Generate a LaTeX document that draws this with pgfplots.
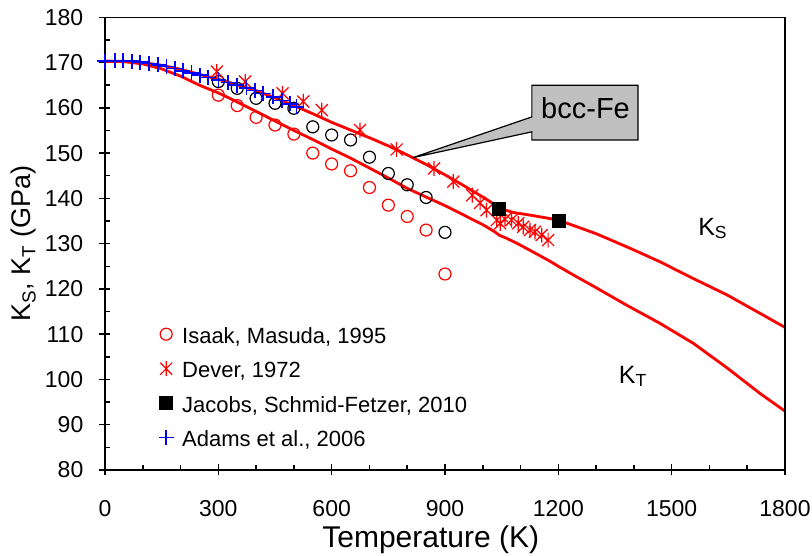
\documentclass[border=0pt]{standalone}
\usepackage{fontspec}
\setmainfont{Liberation Sans}
\usepackage{pgfplots}
\pgfplotsset{compat=1.18}
\definecolor{calloutgray}{RGB}{192,192,192}
\pgfdeclareplotmark{xstar}{%
  \pgfpathmoveto{\pgfqpoint{0pt}{\pgfplotmarksize}}%
  \pgfpathlineto{\pgfqpoint{0pt}{-\pgfplotmarksize}}%
  \pgfpathmoveto{\pgfqpoint{-.8\pgfplotmarksize}{-.8\pgfplotmarksize}}%
  \pgfpathlineto{\pgfqpoint{.8\pgfplotmarksize}{.8\pgfplotmarksize}}%
  \pgfpathmoveto{\pgfqpoint{-.8\pgfplotmarksize}{.8\pgfplotmarksize}}%
  \pgfpathlineto{\pgfqpoint{.8\pgfplotmarksize}{-.8\pgfplotmarksize}}%
  \pgfusepathqstroke}
\begin{document}
\begin{tikzpicture}
\path[use as bounding box] (-105pt,-86pt) rectangle (707pt,470pt);
\begin{axis}[
  at={(0,0)}, anchor=south west,
  scale only axis, width=680pt, height=452.7pt,
  xmin=0, xmax=1800, ymin=80, ymax=180,
  xtick={0,300,...,1800},
  minor xtick={100,200,400,500,700,800,1000,1100,1300,1400,1600,1700},
  ytick={80,90,...,180},
  minor ytick={85,95,...,175},
  tick pos=left, tick align=center,
  major tick length=11pt, minor tick length=5pt,
  minor x tick style={yshift=2.5pt}, minor y tick style={xshift=2.5pt},
  tick style={black, line width=1.5pt},
  axis line style={line width=1.5pt},
  /pgf/number format/assume math mode=true,
  /pgf/number format/1000 sep={},
  tick label style={font=\fontsize{23}{27}\selectfont, inner sep=0pt},
  xticklabel style={anchor=north, yshift=-25pt},
  yticklabel style={anchor=east, xshift=-16pt},
  xlabel={Temperature (K)},
  xlabel style={font=\fontsize{30}{34}\selectfont, at={(axis description cs:0.479,0)}, anchor=base, yshift=-78pt, inner sep=0pt},
  ylabel={K\textsubscript{S}, K\textsubscript{T} (GPa)},
  ylabel style={font=\fontsize{27}{32}\selectfont, at={(axis description cs:0,0.5)}, anchor=base, yshift=74pt, inner sep=0pt},
  legend style={at={(axis description cs:0.0779,0.3203)}, anchor=north west, draw=none, fill=none, inner sep=0pt, row sep=16.5pt,
    font=\fontsize{22}{26}\selectfont, nodes={inner sep=0pt, text height=18pt, text depth=0pt}},
  legend cell align=left,
  legend image code/.code={\path[draw=none,fill=none] (0pt,0pt) -- (24pt,0pt); \draw[#1,only marks] plot coordinates {(8pt,0pt)};},
]
% K_S line
\addplot[red, line width=2.8pt, no marks, forget plot] coordinates {
(0,170.3)(50,170.3)(100,170.0)(150,169.4)(200,168.5)(250,167.4)(300,166.3)(350,165.1)(400,163.8)(450,162.2)(500,160.5)(550,158.7)(600,156.8)(650,155.1)(700,153.4)(750,151.6)(800,149.6)(850,147.5)(900,145.2)(950,142.8)(1000,140.3)(1043,138.0)(1060,137.4)(1080,136.9)(1125,136.3)(1160,135.8)(1200,135.2)(1257,133.5)(1300,132.2)(1345,130.6)(1400,128.6)(1469,126.0)(1557,122.3)(1646,118.7)(1734,114.6)(1800,111.5)
};
% K_T line
\addplot[red, line width=2.8pt, no marks, forget plot] coordinates {
(0,170.3)(50,170.2)(100,169.7)(150,168.6)(200,167.0)(250,165.0)(300,163.3)(350,161.3)(400,159.2)(450,157.1)(500,155.0)(550,153.0)(600,150.9)(650,148.9)(700,146.7)(750,144.5)(800,142.2)(850,140.3)(900,138.4)(950,136.3)(1000,134.2)(1030,132.7)(1045,131.8)(1060,131.3)(1090,130.1)(1130,128.3)(1174,126.3)(1204,124.8)(1250,122.6)(1293,120.6)(1381,116.4)(1469,112.4)(1557,108.0)(1646,102.6)(1734,96.9)(1800,93.0)
};
% black circles (no legend)
\addplot[black, only marks, mark=o, mark size=6pt, line width=1.2pt, forget plot] coordinates {
(300,165.8)(350,164.3)(400,162.1)(450,161.0)(500,159.9)(550,155.8)(600,154.0)(650,152.9)(700,149.1)(750,145.5)(800,143.0)(850,140.2)(900,132.5)
};
% Isaak, Masuda
\addplot[red, only marks, mark=o, mark size=6pt, line width=1.2pt] coordinates {
(300,162.8)(350,160.5)(400,157.9)(450,156.2)(500,154.2)(550,150.0)(600,147.6)(650,146.1)(700,142.4)(750,138.5)(800,136.0)(850,133.0)(900,123.3)
};
\addlegendentry{Isaak, Masuda, 1995}
% Dever
\addplot[red, only marks, mark=xstar, mark size=7.5pt, line width=1.2pt] coordinates {
(296,168.0)(371,165.8)(470,163.2)(525,161.4)(574,159.5)(675,155.1)(772,150.8)(871,146.6)(922,143.7)(972,140.7)(993,139.0)(1010,137.4)(1037,135.2)(1046,134.5)(1059,135.4)(1076,135.2)(1094,134.5)(1107,133.7)(1125,133.0)(1138,132.6)(1156,131.9)(1173,130.8)
};
\addlegendentry{Dever, 1972}
% Jacobs
\addplot[black, only marks, mark=square*, mark size=6.5pt] coordinates {
(1043,137.7)(1200,135.1)
};
\addlegendentry{Jacobs, Schmid-Fetzer, 2010}
% Adams
\addplot[blue, only marks, mark=+, mark size=7.5pt, line width=1.6pt] coordinates {
(0,170.3)(26,170.4)(48,170.4)(71,170.3)(93,170.1)(117,169.8)(141,169.5)(163,169.1)(185,168.7)(206,168.2)(229,167.7)(251,167.2)(273,166.7)(300,166.2)(326,165.6)(349,165.0)(375,164.4)(397,163.8)(419,163.2)(445,162.4)(468,161.6)(490,160.9)(507,160.2)
};
\addlegendentry{Adams et al., 2006}
% frame
\draw[line width=1.5pt] (rel axis cs:0,0) rectangle (rel axis cs:1,1);
% annotations
\draw[line width=1.2pt, fill=calloutgray] (axis cs:1130,165) -- (axis cs:1411,165) -- (axis cs:1411,152.9) -- (axis cs:1130,152.9) -- (axis cs:1130,154.7) -- (axis cs:815,149.0) -- (axis cs:1130,158.0) -- cycle;
\node[anchor=base, inner sep=0pt, font=\fontsize{29}{33}\selectfont] at (axis cs:1272,157.7) {bcc-Fe};
\node[anchor=base west, inner sep=0pt, font=\fontsize{25}{30}\selectfont] at (axis cs:1570,131.9) {K\textsubscript{S}};
\node[anchor=base west, inner sep=0pt, font=\fontsize{25}{30}\selectfont] at (axis cs:1360,99.2) {K\textsubscript{T}};
\end{axis}
\end{tikzpicture}
\end{document}
